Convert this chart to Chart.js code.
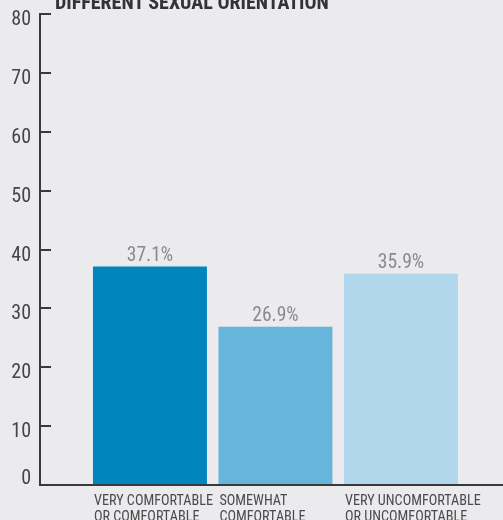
<!DOCTYPE html>
<html><head><meta charset="utf-8">
<script src="https://cdn.jsdelivr.net/npm/chart.js@4.4.1/dist/chart.umd.min.js"></script>
<style>
html,body{margin:0;padding:0;background:#ebebed;overflow:hidden;}
#wrap{position:relative;width:503px;height:520px;overflow:hidden;background:#ebebed;}
#title{position:absolute;left:55px;top:-8.3px;font:bold 20px/1 "Roboto Condensed","Liberation Sans",Arial,sans-serif;color:#333335;white-space:nowrap;}
canvas{position:absolute;left:0;top:0;}
</style></head><body>
<div id="wrap"><canvas id="c" width="503" height="520"></canvas><div id="title">DIFFERENT SEXUAL ORIENTATION</div></div>
<script>
const categories = [["VERY COMFORTABLE", "OR COMFORTABLE"], ["SOMEWHAT", "COMFORTABLE"], ["VERY UNCOMFORTABLE", "OR UNCOMFORTABLE"]];
const shares = [37.1, 26.9, 35.9];
const barColors = ["#0085be", "#66b5db", "#b0d7eb"];
const yTicks = [0, 10, 20, 30, 40, 50, 60, 70, 80];
const valueLabels = shares.map(v => v.toFixed(1) + "%");

const COND = '"Roboto Condensed", "Liberation Sans", Arial, sans-serif';

const valueLabelPlugin = {
  id: 'valueLabels',
  afterDatasetsDraw(chart) {
    const ctx = chart.ctx;
    const meta = chart.getDatasetMeta(0);
    ctx.save();
    ctx.font = '19.5px ' + COND;
    ctx.fillStyle = '#8a8a8c';
    ctx.textAlign = 'center';
    ctx.textBaseline = 'alphabetic';
    meta.data.forEach((bar, i) => {
      ctx.fillText(valueLabels[i], bar.x, bar.y - 6);
    });
    ctx.restore();
  }
};

new Chart(document.getElementById('c'), {
  type: 'bar',
  data: {
    datasets: [{
      data: shares.map((v, i) => ({x: i, y: v})),
      backgroundColor: barColors,
      borderWidth: 0,
      categoryPercentage: 0.908,
      barPercentage: 1
    }]
  },
  options: {
    responsive: false,
    animation: false,
    devicePixelRatio: 1,
    layout: {padding: {top: 14, right: 0, bottom: 0, left: 0}},
    plugins: {legend: {display: false}, tooltip: {enabled: false}, title: {display: false}},
    scales: {
      x: {
        type: 'linear',
        offset: false,
        min: -0.876,
        max: 2.813,
        afterBuildTicks: s => { s.ticks = categories.map((_, i) => ({value: i})); },
        afterFit: s => { s.height = 35; s.paddingLeft = 0; s.paddingRight = 0; },
        grid: {display: true, offset: false, drawOnChartArea: false, drawTicks: false},
        border: {display: true, color: '#3a3a3c', width: 2},
        ticks: {
          align: 'start',
          labelOffset: -56,
          padding: 8.5,
          maxRotation: 0,
          autoSkip: false,
          color: '#4a4a4c',
          font: {family: COND, size: 14.2, lineHeight: 1.12},
          callback: v => categories[v]
        }
      },
      y: {
        min: 0,
        max: 80,
        afterBuildTicks: s => { s.ticks = yTicks.map(v => ({value: v})); },
        afterFit: s => { s.width = 40; s.paddingTop = 0; s.paddingBottom = 0; },
        grid: {display: true, drawOnChartArea: false, drawTicks: true, tickLength: -11, color: '#3a3a3c', lineWidth: 2},
        border: {display: true, color: '#3a3a3c', width: 2},
        ticks: {
          padding: 20,
          labelOffset: 6,
          autoSkip: false,
          color: '#454547',
          font: {family: COND, size: 20},
          callback: v => v === 0 ? ['0', ''] : String(v)
        }
      }
    }
  },
  plugins: [valueLabelPlugin]
});
</script>
</body></html>
